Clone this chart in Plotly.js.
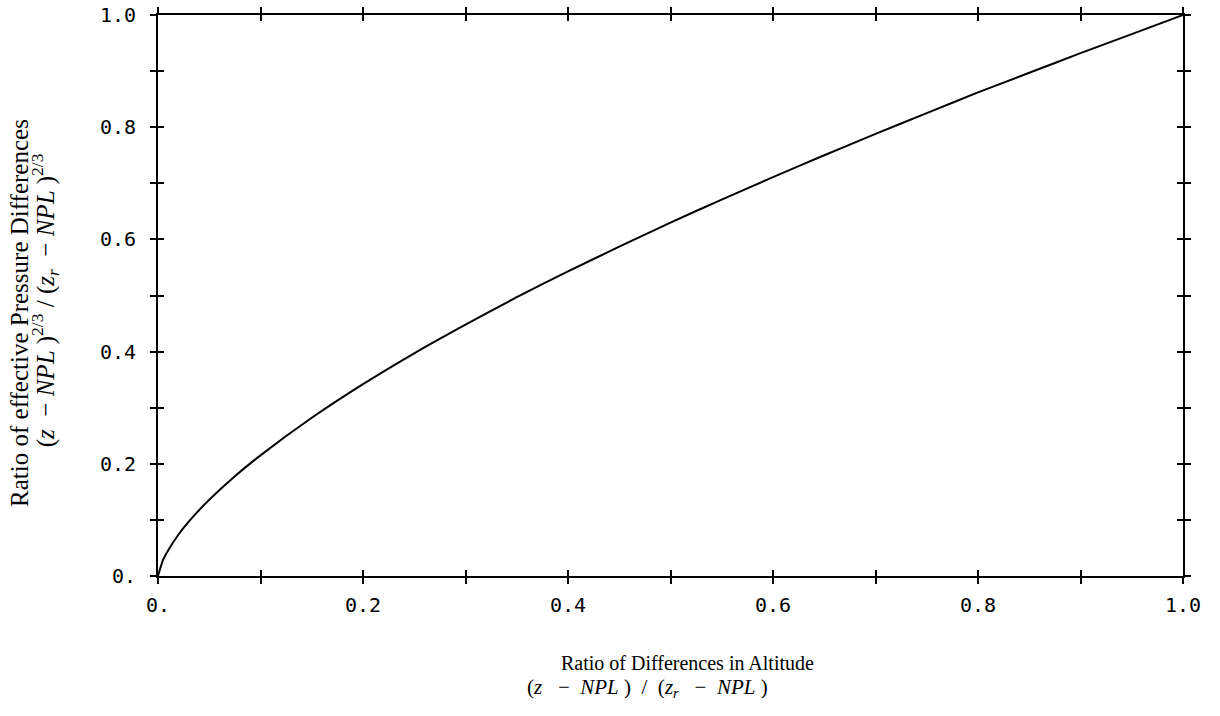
<!DOCTYPE html>
<html>
<head>
<meta charset="utf-8">
<script src="https://cdn.plot.ly/plotly-3.0.1.min.js"></script>
<style>html,body{margin:0;padding:0;background:#fff;}#chart{width:1220px;height:716px;}</style>
</head>
<body>
<div id="chart"></div>
<script>
// Ratio of differences in altitude (x) and ratio of effective pressure differences (y)
const altitudeRatio = [0, 0.005, 0.01, 0.02, 0.03, 0.05, 0.075, 0.1, 0.15, 0.2, 0.25, 0.3, 0.35, 0.4, 0.45, 0.5, 0.55, 0.6, 0.65, 0.7, 0.75, 0.8, 0.85, 0.9, 0.95, 1.0];
const pressureRatio = [0, 0.029, 0.046, 0.074, 0.097, 0.136, 0.178, 0.215, 0.282, 0.342, 0.397, 0.448, 0.497, 0.543, 0.587, 0.630, 0.671, 0.711, 0.750, 0.788, 0.825, 0.862, 0.897, 0.932, 0.966, 1.0];
const tickVals = [0, 0.2, 0.4, 0.6, 0.8, 1.0];
const tickText = ['0.', '0.2', '0.4', '0.6', '0.8', '1.0'];
const xTitleLine1 = 'Ratio of Differences in Altitude';
const xTitleLine2 = '(<i>z</i>&nbsp;&nbsp;&nbsp;−&nbsp;&nbsp;<i>NPL</i>&nbsp;)&nbsp;&nbsp;/&nbsp;&nbsp;(<i>z<sub>r</sub></i>&nbsp;&nbsp;&nbsp;−&nbsp;&nbsp;<i>NPL</i>&nbsp;)';
const yTitleLine1 = 'Ratio of effective Pressure Differences';
const yTitleLine2 = '(<i>z</i>&nbsp;&nbsp;−&nbsp;<i>NPL</i>&nbsp;)<sup>2/3</sup>&nbsp;/&nbsp;(<i>z<sub>r</sub></i>&nbsp;&nbsp;−&nbsp;<i>NPL</i>&nbsp;)<sup>2/3</sup>';

const tickFont = {family: 'DejaVu Sans Mono, monospace', size: 20, color: '#000'};
const xTitleFont = {family: 'Liberation Serif, DejaVu Serif, serif', size: 20, color: '#000'};
const xTitleFont2 = {family: 'Liberation Serif, DejaVu Serif, serif', size: 21, color: '#000'};
const yTitleFont = {family: 'Liberation Serif, DejaVu Serif, serif', size: 25, color: '#000'};

const traces = [
  {x: altitudeRatio, y: pressureRatio, type: 'scatter', mode: 'lines',
   line: {color: '#000', width: 2, shape: 'spline', smoothing: 0.6}, xaxis: 'x', yaxis: 'y', hoverinfo: 'x+y'},
  {x: [0], y: [0], type: 'scatter', mode: 'markers', marker: {opacity: 0}, xaxis: 'x2', yaxis: 'y2', hoverinfo: 'skip', showlegend: false}
];

const minorOut = {tickmode: 'linear', tick0: 0, dtick: 0.1, ticks: 'outside', ticklen: 6, tickwidth: 2, tickcolor: '#000', showgrid: false};
const minorIn = {tickmode: 'linear', tick0: 0, dtick: 0.1, ticks: 'inside', ticklen: 6, tickwidth: 2, tickcolor: '#000', showgrid: false};

const common = {range: [0, 1], showgrid: false, zeroline: false, showline: true, linecolor: '#000', linewidth: 2,
  tickmode: 'array', tickvals: tickVals, tickcolor: '#000', tickwidth: 2, ticklen: 6, mirror: 'ticks', fixedrange: true};

const layout = {
  width: 1220, height: 716,
  margin: {l: 158, r: 37, t: 15, b: 140},
  paper_bgcolor: '#fff', plot_bgcolor: '#fff',
  showlegend: false,
  xaxis: Object.assign({}, common, {
    ticktext: tickText, ticks: 'outside', minor: minorOut, tickfont: tickFont, ticklabelstandoff: 4
  }),
  yaxis: Object.assign({}, common, {
    ticktext: tickText, ticks: 'outside', minor: minorOut, tickfont: tickFont, ticklabelstandoff: 10
  }),
  xaxis2: Object.assign({}, common, {overlaying: 'x', anchor: 'y2', side: 'bottom',
    ticks: 'inside', minor: minorIn, showticklabels: false}),
  yaxis2: Object.assign({}, common, {overlaying: 'y', anchor: 'x2', side: 'left',
    ticks: 'inside', minor: minorIn, showticklabels: false}),
  annotations: [
    {text: xTitleLine1, xref: 'paper', yref: 'paper', x: 0.517, y: -0.155, xanchor: 'center', yanchor: 'middle', showarrow: false, font: xTitleFont},
    {text: xTitleLine2, xref: 'paper', yref: 'paper', x: 0.478, y: -0.200, xanchor: 'center', yanchor: 'middle', showarrow: false, font: xTitleFont2},
    {text: yTitleLine1, xref: 'paper', yref: 'paper', x: -0.1346, y: 0.469, xanchor: 'center', yanchor: 'middle', textangle: -90, showarrow: false, font: yTitleFont},
    {text: yTitleLine2, xref: 'paper', yref: 'paper', x: -0.110, y: 0.492, xanchor: 'center', yanchor: 'middle', textangle: -90, showarrow: false, font: yTitleFont}
  ]
};

Plotly.newPlot('chart', traces, layout, {displayModeBar: false, staticPlot: true});
</script>
</body>
</html>
